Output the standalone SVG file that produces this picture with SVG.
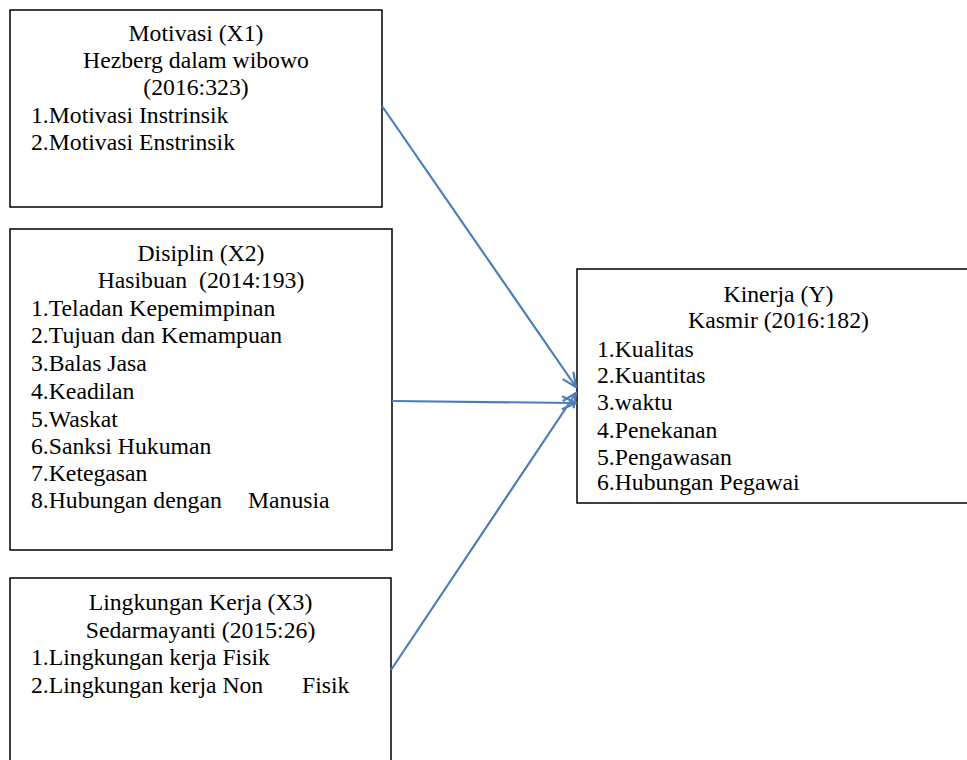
<svg xmlns="http://www.w3.org/2000/svg" width="967" height="760" viewBox="0 0 967 760">
<style>
  .box { fill: #ffffff; stroke: #000000; stroke-width: 1.5; }
  .t { font-family: "Liberation Serif", "Times New Roman", serif; font-size: 23.7px; fill: #000000; }
  .c { text-anchor: middle; }
  .conn { stroke: #4a7ebb; stroke-width: 2.2; fill: none; marker-end: url(#arr); }
</style>
<defs>
  <marker id="arr" markerUnits="userSpaceOnUse" viewBox="0 0 16 16" refX="15" refY="8" markerWidth="16" markerHeight="16" orient="auto">
    <path d="M1,1.5 L15,8 L1,14.5" fill="none" stroke="#4a7ebb" stroke-width="2.2"/>
  </marker>
</defs>
<rect width="967" height="760" fill="#ffffff"/>

<g id="node-x1">
  <rect class="box" x="10" y="10" width="372" height="197"/>
  <text class="t c" x="196" y="41">Motivasi (X1)</text>
  <text class="t c" x="196" y="68">Hezberg dalam wibowo</text>
  <text class="t c" x="196" y="95">(2016:323)</text>
  <text class="t" x="31" y="123">1.Motivasi Instrinsik</text>
  <text class="t" x="31" y="150">2.Motivasi Enstrinsik</text>
</g>

<g id="node-x2">
  <rect class="box" x="10" y="229" width="382" height="321"/>
  <text class="t c" x="201" y="261">Disiplin (X2)</text>
  <text class="t c" x="201" y="288" xml:space="preserve">Hasibuan  (2014:193)</text>
  <text class="t" x="31" y="316">1.Teladan Kepemimpinan</text>
  <text class="t" x="31" y="343">2.Tujuan dan Kemampuan</text>
  <text class="t" x="31" y="371">3.Balas Jasa</text>
  <text class="t" x="31" y="399">4.Keadilan</text>
  <text class="t" x="31" y="427">5.Waskat</text>
  <text class="t" x="31" y="454">6.Sanksi Hukuman</text>
  <text class="t" x="31" y="481">7.Ketegasan</text>
  <text class="t" x="31" y="508">8.Hubungan dengan<tspan x="248">Manusia</tspan></text>
</g>

<g id="node-x3">
  <rect class="box" x="10" y="578" width="381" height="200"/>
  <text class="t c" x="200.5" y="610">Lingkungan Kerja (X3)</text>
  <text class="t c" x="200.5" y="638">Sedarmayanti (2015:26)</text>
  <text class="t" x="31" y="665">1.Lingkungan kerja Fisik</text>
  <text class="t" x="31" y="693">2.Lingkungan kerja Non<tspan x="302">Fisik</tspan></text>
</g>

<g id="node-y">
  <rect class="box" x="577" y="269" width="403" height="234"/>
  <text class="t c" x="778.5" y="302">Kinerja (Y)</text>
  <text class="t c" x="778.5" y="328">Kasmir (2016:182)</text>
  <text class="t" x="597" y="357">1.Kualitas</text>
  <text class="t" x="597" y="383">2.Kuantitas</text>
  <text class="t" x="597" y="410">3.waktu</text>
  <text class="t" x="597" y="438">4.Penekanan</text>
  <text class="t" x="597" y="465">5.Pengawasan</text>
  <text class="t" x="597" y="490">6.Hubungan Pegawai</text>
</g>

<g id="connectors">
  <line class="conn" x1="382" y1="106" x2="576" y2="387"/>
  <line class="conn" x1="392" y1="401" x2="576" y2="403"/>
  <line class="conn" x1="391" y1="670" x2="576" y2="393"/>
</g>
</svg>
